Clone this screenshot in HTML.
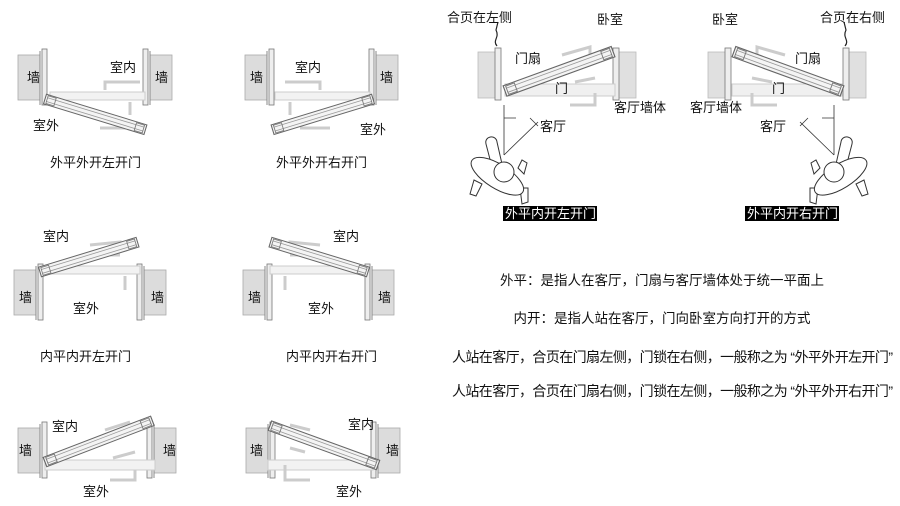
<!DOCTYPE html>
<html><head><meta charset="utf-8"><style>
html,body{margin:0;padding:0;background:#fff;width:900px;height:506px;overflow:hidden}
svg{display:block}
text{font-family:"Liberation Sans","Noto Sans CJK SC",sans-serif;fill:#111}
</style></head><body>
<svg width="900" height="506" viewBox="0 0 900 506" xmlns="http://www.w3.org/2000/svg">
<defs>
<g id="panel">
 <rect x="0" y="-5" width="100" height="10" fill="#f4f4f4" stroke="#666" stroke-width="1"/>
 <line x1="2" y1="-2" x2="98" y2="-2" stroke="#999" stroke-width="0.8"/>
 <line x1="2" y1="2" x2="98" y2="2" stroke="#999" stroke-width="0.8"/>
 <rect x="2" y="-4" width="8" height="8" fill="none" stroke="#777" stroke-width="0.8"/>
 <rect x="90" y="-4" width="8" height="8" fill="none" stroke="#777" stroke-width="0.8"/>
</g>
<g id="wallL">
 <rect x="0" y="0" width="22" height="45" fill="#dcdcdc" stroke="#aaa" stroke-width="0.8"/>
 <line x1="22" y1="-4" x2="22" y2="50" stroke="#888" stroke-width="1"/>
 <rect x="24" y="-6" width="5" height="56" fill="#eee" stroke="#777" stroke-width="0.8"/>
</g>
<g id="person" fill="#fff" stroke="#333" stroke-width="1">
 <path d="M-8 -5 L-14 -28 C-16 -36 -4 -38 -3 -30 L2 -8 Z"/>
 <path d="M18 -4 L22 -12 L27 -9 L24 2 Z"/>
 <path d="M-26 8 L-30 22 L-24 24 L-18 12 Z"/>
 <path d="M20 16 L22 32 L28 30 L28 16 Z"/>
 <ellipse cx="0" cy="5" rx="30" ry="12" transform="rotate(32)"/>
 <circle cx="4" cy="0" r="10"/>
</g>
</defs>

<!-- Diagram 1 -->
<use href="#wallL" x="18" y="55"/>
<g transform="translate(172,55) scale(-1,1)"><use href="#wallL"/></g>
<rect x="50" y="92" width="95" height="8" fill="#f2f2f2" stroke="#ccc"/>
<path d="M105 90 V82 H140 M130 102 V115 M100 128 H130" fill="none" stroke="#ccc" stroke-width="3"/>
<g transform="translate(45,99) rotate(17) scale(1.05,1)"><use href="#panel"/></g>
<text x="27" y="82" font-size="13">墙</text>
<text x="155" y="82" font-size="13">墙</text>
<text x="110" y="72" font-size="13">室内</text>
<text x="33" y="130" font-size="13">室外</text>
<text x="50" y="167" font-size="13">外平外开左开门</text>

<!-- Diagram 2 -->
<use href="#wallL" x="245" y="55"/>
<g transform="translate(398,55) scale(-1,1)"><use href="#wallL"/></g>
<rect x="275" y="92" width="95" height="8" fill="#f2f2f2" stroke="#ccc"/>
<path d="M320 90 V82 H285 M290 102 V115 M300 128 H330" fill="none" stroke="#ccc" stroke-width="3"/>
<g transform="translate(373,99) rotate(163) scale(1.05,1)"><use href="#panel"/></g>
<text x="250" y="82" font-size="13">墙</text>
<text x="380" y="82" font-size="13">墙</text>
<text x="295" y="72" font-size="13">室内</text>
<text x="360" y="134" font-size="13">室外</text>
<text x="276" y="167" font-size="13">外平外开右开门</text>

<!-- Diagram 3 -->
<use href="#wallL" x="14" y="270"/>
<g transform="translate(166,270) scale(-1,1)"><use href="#wallL"/></g>
<rect x="45" y="266" width="95" height="8" fill="#f2f2f2" stroke="#ccc"/>
<path d="M90 245 L120 242 V250 M125 276 V290 M88 255 H120" fill="none" stroke="#ccc" stroke-width="3"/>
<g transform="translate(40,272) rotate(-17) scale(1.02,1)"><use href="#panel"/></g>
<text x="19" y="302" font-size="13">墙</text>
<text x="151" y="302" font-size="13">墙</text>
<text x="43" y="241" font-size="13">室内</text>
<text x="73" y="313" font-size="13">室外</text>
<text x="40" y="361" font-size="13">内平内开左开门</text>

<!-- Diagram 4 -->
<use href="#wallL" x="243" y="270"/>
<g transform="translate(394,270) scale(-1,1)"><use href="#wallL"/></g>
<rect x="270" y="266" width="95" height="8" fill="#f2f2f2" stroke="#ccc"/>
<path d="M320 245 L290 242 V250 M285 276 V290 M320 255 H290" fill="none" stroke="#ccc" stroke-width="3"/>
<g transform="translate(368,272) rotate(197) scale(1.02,1)"><use href="#panel"/></g>
<text x="248" y="302" font-size="13">墙</text>
<text x="378" y="302" font-size="13">墙</text>
<text x="333" y="241" font-size="13">室内</text>
<text x="308" y="313" font-size="13">室外</text>
<text x="286" y="361" font-size="13">内平内开右开门</text>

<!-- Diagram 5 -->
<use href="#wallL" x="18" y="428"/>
<g transform="translate(176,428) scale(-1,1)"><use href="#wallL"/></g>
<rect x="45" y="460" width="110" height="10" fill="#f2f2f2" stroke="#ccc"/>
<path d="M105 430 L130 422 M135 470 V480 H110 M113 458 L135 452" fill="none" stroke="#ccc" stroke-width="3"/>
<g transform="translate(45,462) rotate(-21) scale(1.15,1)"><use href="#panel"/></g>
<text x="19" y="455" font-size="13">墙</text>
<text x="163" y="455" font-size="13">墙</text>
<text x="52" y="431" font-size="13">室内</text>
<text x="83" y="496" font-size="13">室外</text>

<!-- Diagram 6 -->
<use href="#wallL" x="246" y="428"/>
<g transform="translate(400,428) scale(-1,1)"><use href="#wallL"/></g>
<rect x="268" y="460" width="105" height="10" fill="#f2f2f2" stroke="#ccc"/>
<path d="M290 425 L310 430 M285 465 V480 H310 M290 448 L305 452" fill="none" stroke="#ccc" stroke-width="3"/>
<g transform="translate(378,465) rotate(200) scale(1.15,1)"><use href="#panel"/></g>
<text x="250" y="455" font-size="13">墙</text>
<text x="386" y="455" font-size="13">墙</text>
<text x="348" y="429" font-size="13">室内</text>
<text x="336" y="496" font-size="13">室外</text>

<!-- Top A -->
<rect x="478" y="52" width="20" height="46" fill="#e0e0e0" stroke="#bbb" stroke-width="0.8"/>
<rect x="495" y="48" width="6" height="52" fill="#eee" stroke="#777" stroke-width="0.8"/>
<rect x="616" y="52" width="20" height="46" fill="#e0e0e0" stroke="#bbb" stroke-width="0.8"/>
<rect x="613" y="48" width="6" height="52" fill="#eee" stroke="#777" stroke-width="0.8"/>
<rect x="505" y="84" width="110" height="12" fill="#f0f0f0" stroke="#ccc"/>
<path d="M562 55 L590 47 V55 M595 93 V105 H570 M575 82 L595 78" fill="none" stroke="#ccc" stroke-width="3"/>
<g transform="translate(505,91) rotate(-20) scale(1.15,1.1)"><use href="#panel"/></g>
<path d="M497 46 C492 40 500 38 496 30 L498 22" fill="none" stroke="#222" stroke-width="1.2"/>
<text x="447" y="22" font-size="13">合页在左侧</text>
<text x="597" y="24" font-size="13">卧室</text>
<text x="515" y="63" font-size="13">门扇</text>
<text x="555" y="93" font-size="13">门</text>
<text x="614" y="112" font-size="13">客厅墙体</text>
<text x="540" y="131" font-size="13">客厅</text>
<path d="M504 105 V155 M504 118 H516 M504 155 L538 122 M530 118 L538 126" fill="none" stroke="#333" stroke-width="0.8"/>
<use href="#person" transform="translate(500,172)"/>
<rect x="503" y="206" width="94" height="15" fill="#000"/>
<text x="505" y="218" font-size="13" style="fill:#fff">外平内开左开门</text>

<!-- Top B -->
<rect x="708" y="52" width="20" height="46" fill="#e0e0e0" stroke="#bbb" stroke-width="0.8"/>
<rect x="725" y="48" width="6" height="52" fill="#eee" stroke="#777" stroke-width="0.8"/>
<rect x="846" y="52" width="20" height="46" fill="#e0e0e0" stroke="#bbb" stroke-width="0.8"/>
<rect x="843" y="48" width="6" height="52" fill="#eee" stroke="#777" stroke-width="0.8"/>
<rect x="732" y="84" width="110" height="12" fill="#f0f0f0" stroke="#ccc"/>
<path d="M785 55 L757 47 V55 M752 93 V105 H777 M772 82 L752 78" fill="none" stroke="#ccc" stroke-width="3"/>
<g transform="translate(842,91) rotate(200) scale(1.15,1.1)"><use href="#panel"/></g>
<path d="M845 46 C850 40 842 38 846 30 L844 22" fill="none" stroke="#222" stroke-width="1.2"/>
<text x="820" y="22" font-size="13">合页在右侧</text>
<text x="712" y="24" font-size="13">卧室</text>
<text x="795" y="63" font-size="13">门扇</text>
<text x="772" y="93" font-size="13">门</text>
<text x="690" y="112" font-size="13">客厅墙体</text>
<text x="760" y="131" font-size="13">客厅</text>
<path d="M834 105 V155 M834 118 H822 M834 155 L800 122 M808 118 L800 126" fill="none" stroke="#333" stroke-width="0.8"/>
<use href="#person" transform="translate(838,172) scale(-1,1)"/>
<rect x="745" y="206" width="94" height="15" fill="#000"/>
<text x="747" y="218" font-size="13" style="fill:#fff">外平内开右开门</text>

<!-- explanation text -->
<text x="662" y="285" font-size="13.5" text-anchor="middle">外平：是指人在客厅，门扇与客厅墙体处于统一平面上</text>
<text x="662" y="323" font-size="13.5" text-anchor="middle">内开：是指人站在客厅，门向卧室方向打开的方式</text>
<text x="452" y="362" font-size="14" textLength="441">人站在客厅，合页在门扇左侧，门锁在右侧，一般称之为 “外平外开左开门”</text>
<text x="452" y="396" font-size="14" textLength="441">人站在客厅，合页在门扇右侧，门锁在左侧，一般称之为 “外平外开右开门”</text>
</svg>
</body></html>
